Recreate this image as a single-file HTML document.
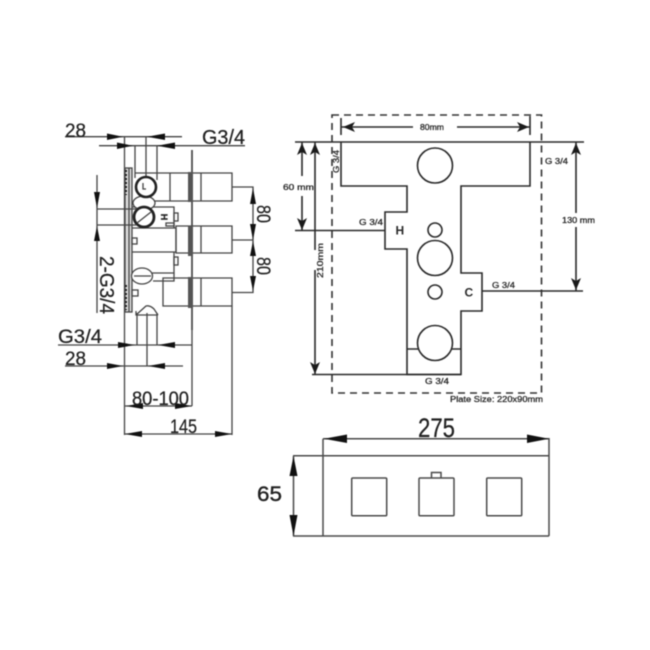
<!DOCTYPE html>
<html><head><meta charset="utf-8"><style>
html,body{margin:0;padding:0;background:#fff;width:650px;height:650px;overflow:hidden}
svg{display:block;filter:blur(.4px)}
.a{font-family:"Liberation Sans",sans-serif;fill:#222;stroke:#222;stroke-width:.25}
.b{font-family:"Liberation Sans",sans-serif;fill:#2a2a2a;font-weight:700}
.c{font-family:"Liberation Sans",sans-serif;fill:#2a2a2a;stroke:#2a2a2a;stroke-width:.3}
</style></head><body>
<svg width="650" height="650" viewBox="0 0 650 650" xmlns="http://www.w3.org/2000/svg">
<rect width="650" height="650" fill="#fff"/>
<!-- LEFT VIEW -->
<g fill="none" stroke="#444" stroke-width="1.3">
<path d="M65 136.7H182M99 145.7H245"/>
<path d="M124.500 137V435M135 146V178M146 137V178M157 146V180"/>
<path d="M192 150V330" stroke-width="1.7"/>
<rect x="125" y="168" width="7" height="144" fill="#ddd"/>
<path d="M129 168V312"/>
<path d="M126 170V195M126 285V310" stroke="#222" stroke-width="2" stroke-dasharray="2 2"/>
<path d="M135 173H232V201H135M170 173V201M201 173V201"/>
<path d="M176 226H232V253H176ZM201 226V253"/>
<path d="M163 278H232V306H163ZM201 278V306"/>
<path d="M132 207H174V228H132M132 252H174V273H132M176 228V252M132 228H176M132 252H176"/>
<path d="M174 273V281H153"/>
<rect x="174" y="213" width="4" height="8"/>
<rect x="174" y="257" width="4" height="8"/>
<rect x="132" y="238" width="5" height="6"/>
<rect x="132" y="290" width="6" height="6"/>
<rect x="166" y="223" width="8" height="3"/>
<ellipse cx="144" cy="203" rx="11" ry="7" fill="#fff"/>
<circle cx="146" cy="187" r="10" stroke="#222" stroke-width="2.6" fill="#fff"/>
<path d="M143 183V189H146"/>
<circle cx="144" cy="217" r="10" stroke="#222" stroke-width="2.8" fill="#fff"/>
<path d="M137 223L151 212"/>
<ellipse cx="142" cy="276" rx="10.500" ry="8" fill="#fff"/>
<path d="M134 276H151"/>
<path d="M136 315L146 306Q150 305 154 309L158 315M136 311V315H158"/>
<path d="M137 313V345M147 313V366M157 313V345"/>
<path d="M232 187H253V292.500H232M232 240H253"/>
<path d="M97 175V313M97 209H137M97 225H137"/>
<path d="M58 345H192M65 366H183M124 406H192M124 434H232M232 306V435"/>
<path d="M192 330V406"/>
</g>
<g fill="#555">
<rect x="188" y="172" width="5" height="30"/><rect x="188" y="226" width="5" height="30"/><rect x="188" y="277" width="5" height="31"/>
</g>
<g fill="#111">
<path d="M107 133.500L123 136.700L107 140ZM165 133.500L147 136.700L165 140ZM117 142.500L133 145.700L117 149ZM175 142.500L157 145.700L175 149Z"/>
<path d="M118 342L135 345L118 348ZM175 342L158 345L175 348ZM107 363L123 366L107 369ZM165 363L148 366L165 369Z"/>
<path d="M143 403L126 406L143 409ZM175 403L192 406L175 409ZM142 431L125 434L142 437ZM215 431L232 434L215 437Z"/>
<path d="M250 204L253 188L256 204ZM250 224L253 240L256 224ZM250 256L253 241L256 256ZM250 276L253 291L256 276Z"/>
<path d="M94 192L97 208L100 192ZM94 241L97 226L100 241Z"/>
</g>
<g class="a">
<text x="65" y="137" font-size="19" textLength="21" lengthAdjust="spacingAndGlyphs">28</text>
<text x="202" y="144" font-size="20" textLength="43" lengthAdjust="spacingAndGlyphs">G3/4</text>
<text x="58" y="343" font-size="19" textLength="44" lengthAdjust="spacingAndGlyphs">G3/4</text>
<text x="65" y="365" font-size="19" textLength="21" lengthAdjust="spacingAndGlyphs">28</text>
<text x="132" y="405" font-size="19" textLength="57" lengthAdjust="spacingAndGlyphs">80-100</text>
<text x="170" y="433" font-size="19" textLength="27" lengthAdjust="spacingAndGlyphs">145</text>
<text transform="translate(257,205) rotate(90)" font-size="19" textLength="18" lengthAdjust="spacingAndGlyphs">80</text>
<text transform="translate(257,257) rotate(90)" font-size="19" textLength="18" lengthAdjust="spacingAndGlyphs">80</text>
<text transform="translate(100,256) rotate(90)" font-size="20" textLength="58" lengthAdjust="spacingAndGlyphs">2-G3/4</text>
<text transform="translate(161,217) rotate(90)" font-size="9" font-weight="700" text-anchor="middle">H</text>
</g>
<!-- RIGHT PLAN -->
<path d="M332 115H541.500V393H332Z" fill="none" stroke="#333" stroke-width="1.6" stroke-dasharray="7 5"/>
<g fill="none" stroke="#2a2a2a" stroke-width="1.6">
<path d="M295 142H584M341 118V135M530 116V135"/>
<path d="M341 127H413M457 127H530"/>
<path d="M341 142V186H407V212H385V249H407V374.500H461V311H482V273H461V186H530V142"/>
<circle cx="435" cy="165.500" r="17.500"/><circle cx="435" cy="230" r="7"/>
<circle cx="435" cy="258" r="17.500" fill="#fff"/><circle cx="435" cy="292" r="7"/>
<circle cx="435" cy="343" r="17.500"/>
<path d="M407 349H418M452 349H461"/>
<path d="M302 142V176M302 196V230.500M295 230.500H385"/>
<path d="M315 142V250M315 270V374.500M312 374.500H461"/>
<path d="M482 291H583M576 142V213M576 227V291"/>
</g>
<g fill="#1a1a1a">
<path d="M343 127L355 122L352 127L355 132ZM529 127L517 122L520 127L517 132Z"/>
<path d="M302 143L297 155L302 152L307 155ZM302 230L297 218L302 221L307 218ZM315 143L310 155L315 152L320 155ZM315 374L310 362L315 365L320 362ZM576 143L571 155L576 152L581 155ZM576 290L571 278L576 281L581 278Z"/>
</g>
<g class="c">
<text x="420" y="130" font-size="8.500" textLength="24" lengthAdjust="spacingAndGlyphs">80mm</text>
<text x="283" y="190" font-size="8.500" textLength="31" lengthAdjust="spacingAndGlyphs">60 mm</text>
<text x="562" y="223" font-size="8.500" textLength="33" lengthAdjust="spacingAndGlyphs">130 mm</text>
<text x="359" y="225" font-size="8.500" textLength="24" lengthAdjust="spacingAndGlyphs">G 3/4</text>
<text x="545" y="164" font-size="8.500" textLength="23" lengthAdjust="spacingAndGlyphs">G 3/4</text>
<text x="492" y="288" font-size="8.500" textLength="23" lengthAdjust="spacingAndGlyphs">G 3/4</text>
<text x="425" y="384" font-size="8.500" textLength="24" lengthAdjust="spacingAndGlyphs">G 3/4</text>
<text transform="translate(339,173) rotate(-90)" font-size="8.500" textLength="23" lengthAdjust="spacingAndGlyphs">G 3/4</text>
<text transform="translate(323,278) rotate(-90)" font-size="8.500" textLength="35" lengthAdjust="spacingAndGlyphs">210mm</text>
<text x="450" y="402" font-size="8.500" textLength="93" lengthAdjust="spacingAndGlyphs">Plate Size: 220x90mm</text>
</g>
<g class="b">
<text x="395.500" y="234.500" font-size="12">H</text>
<text x="464.500" y="296.500" font-size="12">C</text>
</g>
<!-- FRONT VIEW -->
<g fill="none" stroke="#4a4a4a" stroke-width="1.5">
<path d="M323 438.700H549M323 438.700V536M293 455.700H549M293 536H549M549 438V536M293.500 456V536"/>
<rect x="351.700" y="478" width="35" height="37.700" rx="1"/>
<rect x="419" y="478" width="35" height="37.700" rx="1"/>
<rect x="486.700" y="478" width="35" height="37.700" rx="1"/>
<path d="M431.500 478V472.500H441V478"/>
</g>
<g fill="#111">
<path d="M347 434.500L324 438.700L347 443ZM527 434.500L549 438.700L527 443Z"/>
<path d="M289.500 476L293.500 456L297.500 476ZM289.500 515L293.500 536L297.500 515Z"/>
</g>
<g class="a">
<text x="418" y="437" font-size="27" textLength="37" lengthAdjust="spacingAndGlyphs">275</text>
<text x="257" y="501" font-size="21" textLength="25" lengthAdjust="spacingAndGlyphs" stroke="#222" stroke-width=".4">65</text>
</g>
</svg>
</body></html>
